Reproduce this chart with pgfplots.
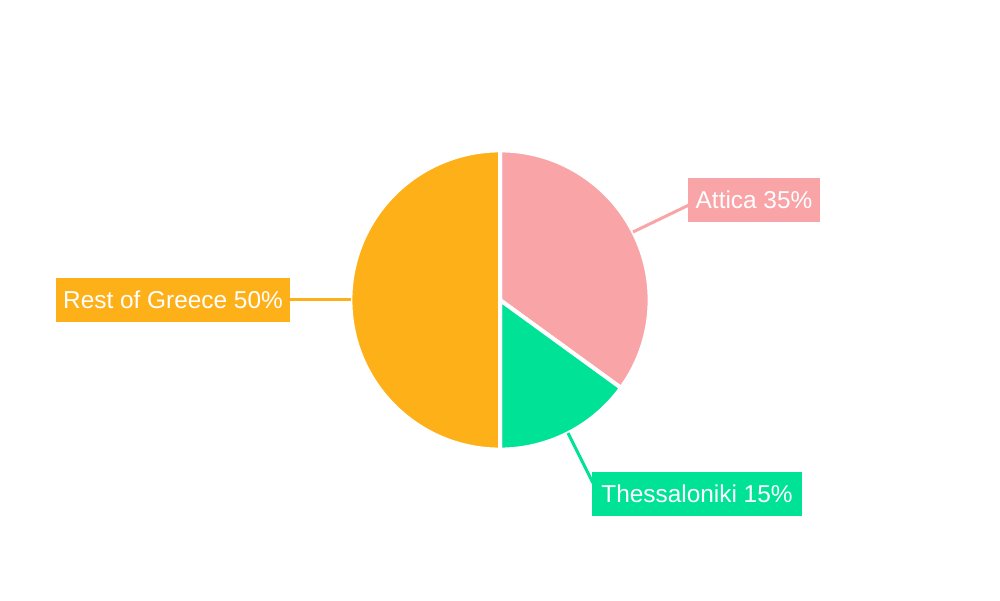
\documentclass[border=0pt]{standalone}
\usepackage{pgfplots}
\usepackage{pgfplotstable}
\pgfplotsset{compat=1.18}
\usepackage{fontspec}
\setmainfont{Liberation Sans}
\definecolor{pieA}{HTML}{F9A4A6}
\definecolor{pieB}{HTML}{00E396}
\definecolor{pieC}{HTML}{FEB019}
\pgfplotstableread[col sep=comma]{
label,value
Attica,35
Thessaloniki,15
Rest of Greece,50
}\piedata
\pgfplotstablegetelem{0}{value}\of\piedata \edef\vA{\pgfplotsretval}
\pgfplotstablegetelem{1}{value}\of\piedata \edef\vB{\pgfplotsretval}
\pgfplotstablegetelem{2}{value}\of\piedata \edef\vC{\pgfplotsretval}
\pgfmathsetmacro\aA{90-3.6*\vA}
\pgfmathsetmacro\aB{\aA-3.6*\vB}
\pgfmathsetmacro\aC{\aB-3.6*\vC}
\begin{document}
\begin{tikzpicture}
\begin{axis}[
  width=500pt, height=300pt, scale only axis,
  xmin=0, xmax=1000, ymin=0, ymax=600,
  hide axis, clip=false,
]
% slices
\fill[pieA, draw=white, line width=2pt, line join=round] (axis cs:500,300) -- ++(90:74.8pt) arc[start angle=90, end angle=\aA, radius=74.8pt] -- cycle;
\fill[pieB, draw=white, line width=2pt, line join=round] (axis cs:500,300) -- ++(\aA:74.8pt) arc[start angle=\aA, end angle=\aB, radius=74.8pt] -- cycle;
\fill[pieC, draw=white, line width=2pt, line join=round] (axis cs:500,300) -- ++(\aB:74.8pt) arc[start angle=\aB, end angle=\aC, radius=74.8pt] -- cycle;
% leader lines
\addplot[pieA, line width=1.5pt, no marks] coordinates {(633,368) (689,395)};
\addplot[pieB, line width=1.5pt, no marks] coordinates {(568,167) (593,117)};
\addplot[pieC, line width=1.5pt, no marks] coordinates {(289,300) (351,300)};
% labels
\node[fill=pieA, text=white, minimum width=66pt, minimum height=22pt, inner sep=0pt, font=\fontsize{12.2}{14}\selectfont] at (axis cs:754,400) {Attica 35\%};
\node[fill=pieB, text=white, minimum width=105pt, minimum height=22pt, inner sep=0pt, font=\fontsize{12.2}{14}\selectfont] at (axis cs:697,106) {Thessaloniki 15\%};
\node[fill=pieC, text=white, minimum width=117pt, minimum height=22pt, inner sep=0pt, font=\fontsize{12.2}{14}\selectfont] at (axis cs:173,300) {Rest of Greece 50\%};
\end{axis}
\pgfresetboundingbox
\path (current axis.south west) rectangle (current axis.north east);
\end{tikzpicture}
\end{document}
